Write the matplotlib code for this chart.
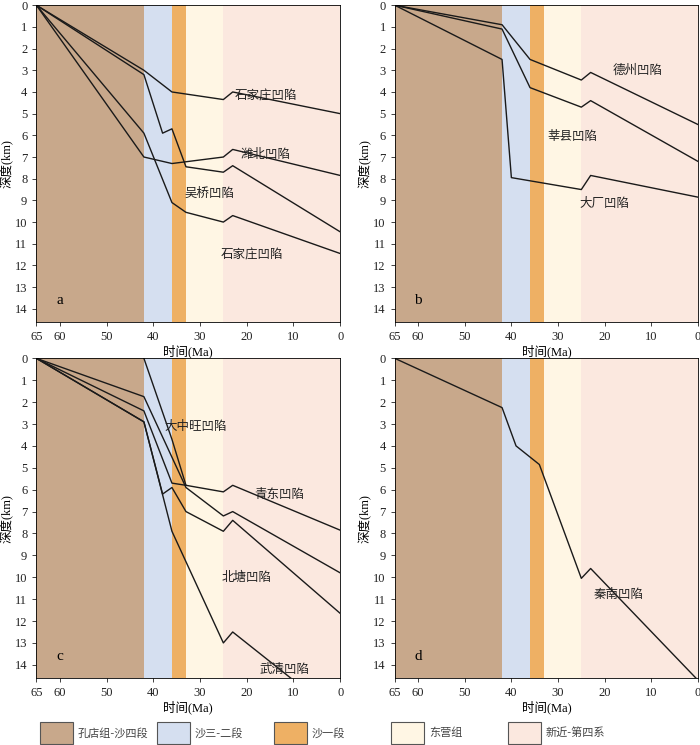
import matplotlib
matplotlib.use("Agg")
import matplotlib.pyplot as plt
import matplotlib.patches as mpatches

plt.rcParams['font.family'] = ['Liberation Serif', 'Noto Sans CJK SC']

# stratigraphic intervals (Ma)
stage_bounds = [(65, 42), (42, 36), (36, 33), (33, 25), (25, 0)]
stage_colors = ["#c8a88b", "#d5dff0", "#eeb064", "#fff6e4", "#fbe8df"]
stage_names = ["孔店组-沙四段", "沙三-二段", "沙一段", "东营组", "新近-第四系"]

# burial curves: (age Ma, depth km)
a_curves = [
    ([65, 42, 36, 25, 23, 0], [0, 3.0, 4.0, 4.35, 4.0, 5.0]),
    ([65, 42, 38, 36, 33, 25, 23, 0], [0, 3.2, 5.9, 5.7, 7.45, 7.7, 7.4, 10.45]),
    ([65, 42, 36, 33, 25, 23, 0], [0, 5.9, 9.1, 9.55, 10.0, 9.7, 11.45]),
    ([65, 42, 36, 25, 23, 0], [0, 7.0, 7.3, 7.0, 6.65, 7.85]),
]
b_curves = [
    ([65, 42, 36, 25, 23, 0], [0, 0.9, 2.5, 3.45, 3.1, 5.5]),
    ([65, 42, 36, 25, 23, 0], [0, 1.1, 3.8, 4.7, 4.4, 7.2]),
    ([65, 42, 40, 25, 23, 0], [0, 2.5, 7.95, 8.5, 7.85, 8.85]),
]
c_curves = [
    ([65, 42, 33, 25, 23, 0], [0, 1.75, 5.9, 7.2, 7.0, 9.8]),
    ([65, 42, 36, 33, 25, 23, 0], [0, 2.4, 5.7, 5.8, 6.1, 5.8, 7.85]),
    ([65, 42, 38, 36, 33, 25, 23, 0], [0, 2.9, 6.2, 5.9, 7.0, 7.9, 7.4, 11.65]),
    ([65, 42, 36, 25, 23, 0], [0, 2.9, 7.9, 13.0, 12.5, 16.4]),
    ([42, 36, 33], [0, 3.7, 5.8]),
]
d_curves = [
    ([65, 42, 39, 34, 25, 23, 0], [0, 2.25, 4.0, 4.85, 10.05, 9.6, 14.7]),
]

a_labels = [(16, 4.2, "石家庄凹陷"), (16, 6.9, "潍北凹陷"), (28, 8.7, "吴桥凹陷"), (19, 11.5, "石家庄凹陷")]
b_labels = [(13, 3.0, "德州凹陷"), (27, 6.05, "莘县凹陷"), (20, 9.15, "大厂凹陷")]
c_labels = [(31, 3.1, "大中旺凹陷"), (13, 6.2, "青东凹陷"), (20, 10.0, "北塘凹陷"), (12, 14.2, "武清凹陷")]
d_labels = [(17, 10.8, "秦南凹陷")]

panels = [
    ("a", a_curves, a_labels, [0.052, 0.568, 0.434, 0.425]),
    ("b", b_curves, b_labels, [0.564, 0.568, 0.433, 0.425]),
    ("c", c_curves, c_labels, [0.052, 0.090, 0.434, 0.429]),
    ("d", d_curves, d_labels, [0.564, 0.090, 0.433, 0.429]),
]

fig = plt.figure(figsize=(7, 7.45), dpi=100)

for tag, curves, labels, rect in panels:
    ax = fig.add_axes(rect)
    for (x0, x1), col in zip(stage_bounds, stage_colors):
        ax.axvspan(x1, x0, color=col, lw=0, zorder=0)
    for xs, ys in curves:
        ax.plot(xs, ys, color="#1a1a1a", lw=1.0, zorder=2)
    for x, y, s in labels:
        ax.text(x, y, s, fontsize=9, ha="center", va="center",
                family="Noto Sans CJK SC", color="#222222")
    ax.text(60, 13.6, tag, fontsize=11, ha="center", va="center")
    ax.set_xlim(65, 0)
    ax.set_ylim(14.6, 0)
    ax.set_xticks([65, 60, 50, 40, 30, 20, 10, 0])
    ax.set_yticks(range(0, 15))
    ax.tick_params(labelsize=9, length=3, direction="out", width=0.6, colors="#222222")
    ax.set_xlabel("时间(Ma)", fontsize=9, labelpad=1)
    ax.set_ylabel("深度(km)", fontsize=9, labelpad=1)
    for sp in ax.spines.values():
        sp.set_linewidth(0.6)

# legend strip
lax = fig.add_axes([0, 0, 1, 0.04])
lax.set_xlim(0, 700)
lax.set_ylim(0, 30)
lax.set_axis_off()
for i, (col, name) in enumerate(zip(stage_colors, stage_names)):
    x = 40 + i * 117
    lax.add_patch(mpatches.Rectangle((x, 1), 33, 22, facecolor=col, edgecolor="#555555", lw=0.8))
    lax.text(x + 38, 12, name, fontsize=8, va="center", family="Noto Sans CJK SC", color="#444444")

fig.savefig("out.png", dpi=100)
